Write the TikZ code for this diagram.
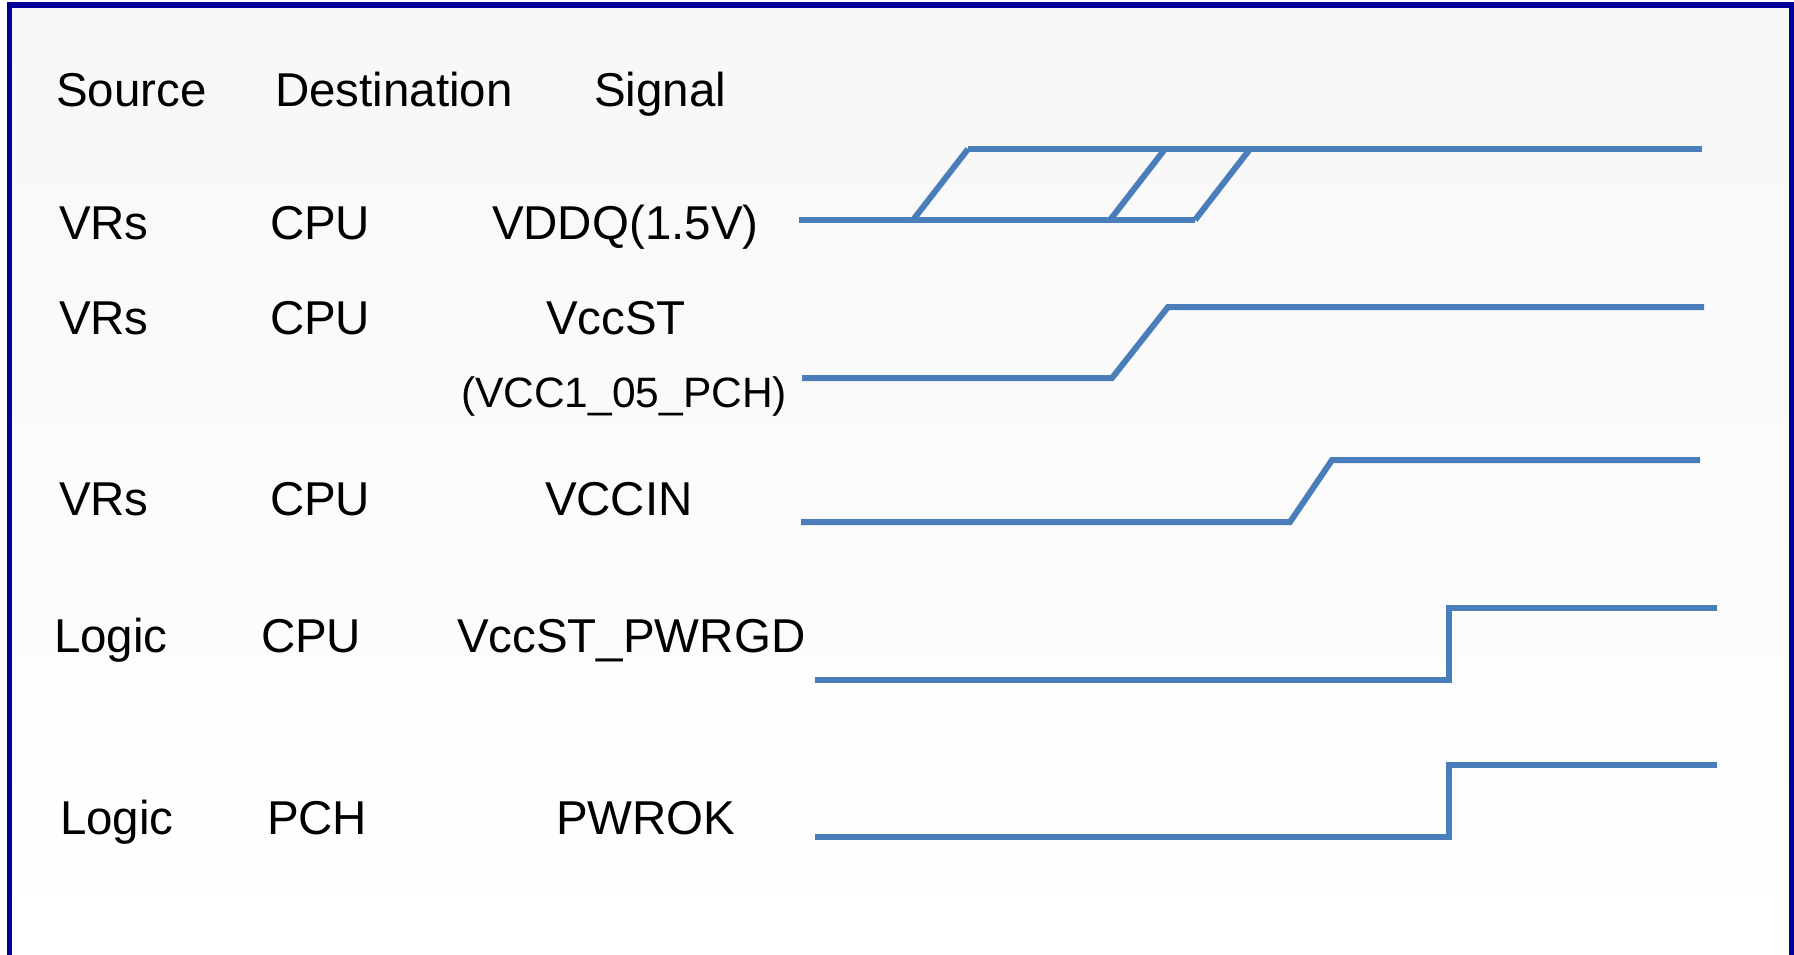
\documentclass[tikz,border=0pt]{standalone}
\usepackage{fontspec}
\setmainfont{Liberation Sans}
\definecolor{framecol}{RGB}{0,0,153}
\definecolor{wavecol}{RGB}{74,126,187}
\definecolor{paperTop}{RGB}{247,247,247}
\tikzset{
  lbl/.style={anchor=base west, inner sep=0pt, outer sep=0pt, font=\fontsize{47.5}{57}\selectfont},
  lblsmall/.style={anchor=base west, inner sep=0pt, outer sep=0pt, font=\fontsize{42.5}{51}\selectfont},
  wave/.style={draw=wavecol, line width=6pt, line cap=butt, line join=miter},
  frame/.style={draw=framecol, line width=5.2pt}
}
\begin{document}
\begin{tikzpicture}[x=1pt, y=-1pt]
  \useasboundingbox (0,0) rectangle (1794,954);
  % panel background and frame
  \shade[top color=paperTop, bottom color=white] (9,5) rectangle (1792,954);
  \draw[frame] (9.3,5) -- (1791.7,5);
  \draw[frame] (9.3,2.4) -- (9.3,960);
  \draw[frame] (1791.7,2.4) -- (1791.7,960);

  % column headings
  \node[lbl] (hsrc) at (56,106) {Source};
  \node[lbl] (hdst) at (275,106) {Destination};
  \node[lbl] (hsig) at (594,106) {Signal};

  % row 1
  \node[lbl] (s1) at (59,239) {VRs};
  \node[lbl] (d1) at (270,239) {CPU};
  \node[lbl] (g1) at (492,239) {VDDQ(1.5V)};
  % row 2
  \node[lbl] (s2) at (59,334) {VRs};
  \node[lbl] (d2) at (270,334) {CPU};
  \node[lbl] (g2) at (546,334) {VccST};
  \node[lblsmall] (g2b) at (461,407) {(VCC1\_05\_PCH)};
  % row 3
  \node[lbl] (s3) at (59,515) {VRs};
  \node[lbl] (d3) at (270,515) {CPU};
  \node[lbl] (g3) at (545,515) {VCCIN};
  % row 4
  \node[lbl] (s4) at (54,652) {Logic};
  \node[lbl] (d4) at (261,652) {CPU};
  \node[lbl] (g4) at (457,652) {VccST\_PWRGD};
  % row 5
  \node[lbl] (s5) at (60,834) {Logic};
  \node[lbl] (d5) at (267,834) {PCH};
  \node[lbl] (g5) at (556,834) {PWROK};

  % VDDQ: ramp with three possible ramp times
  \draw[wave] (799,220) -- (1195,220);
  \draw[wave] (968,149) -- (1702,149);
  \draw[wave] (913,220) -- (968,149);
  \draw[wave] (1110,220) -- (1165,149);
  \draw[wave] (1195,220) -- (1250,149);

  % VccST
  \draw[wave] (802,378) -- (1112,378) -- (1168,307) -- (1704,307);

  % VCCIN
  \draw[wave] (801,522) -- (1290,522) -- (1332,460) -- (1700,460);

  % VccST_PWRGD
  \draw[wave] (815,680) -- (1449,680) -- (1449,608) -- (1717,608);

  % PWROK
  \draw[wave] (815,837) -- (1449,837) -- (1449,765) -- (1717,765);
\end{tikzpicture}
\end{document}
